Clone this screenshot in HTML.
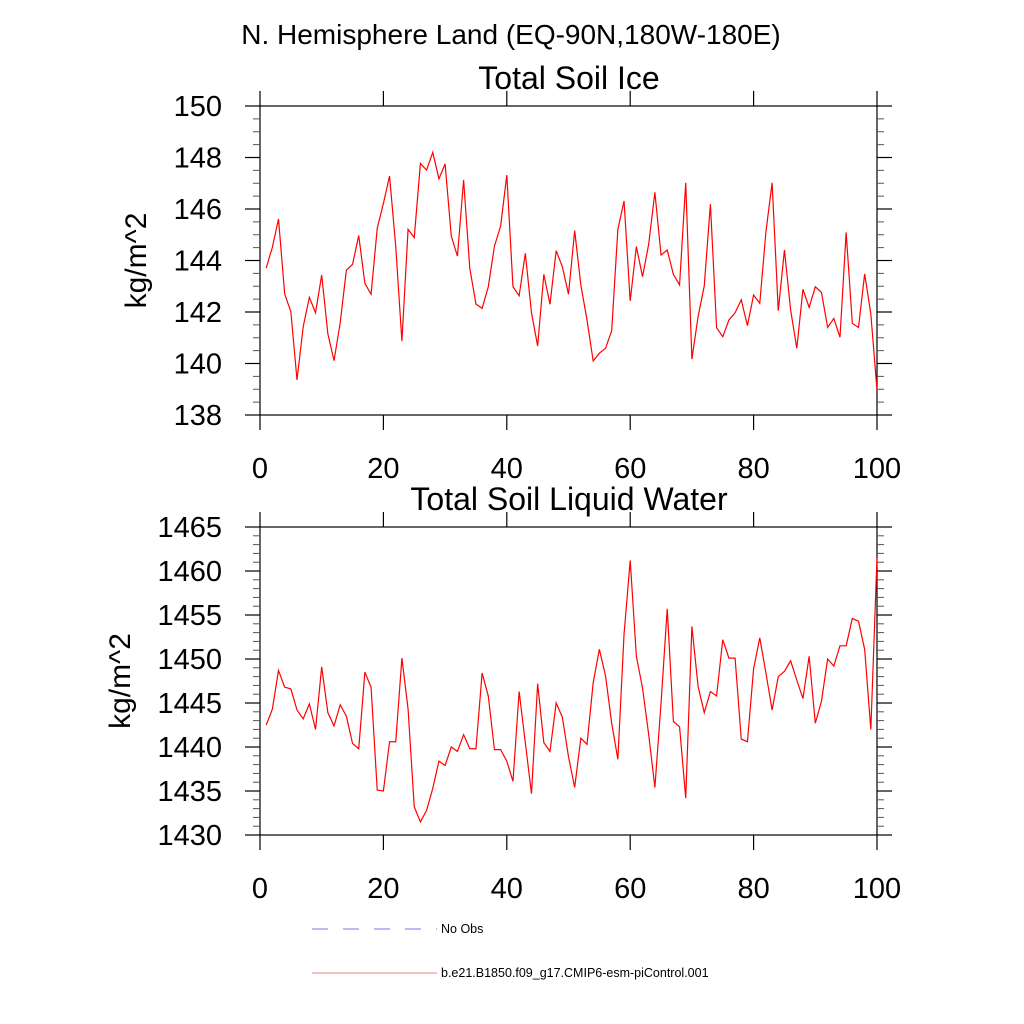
<!DOCTYPE html>
<html><head><meta charset="utf-8"><style>
html,body{margin:0;padding:0;background:#fff;}
svg{display:block;font-family:"Liberation Sans",sans-serif;}
</style></head><body>
<svg id="chart" width="1024" height="1024" viewBox="0 0 1024 1024" xmlns="http://www.w3.org/2000/svg">
<rect width="1024" height="1024" fill="#fff"/>
<text x="511" y="44" font-size="28" text-anchor="middle">N. Hemisphere Land (EQ-90N,180W-180E)</text>
<g id="legend">
<line x1="312" y1="929" x2="437" y2="929" stroke="#7777ee" stroke-width="1" stroke-dasharray="16,15"/>
<text x="441" y="933" font-size="12.5">No Obs</text>
<line x1="312" y1="973" x2="437" y2="973" stroke="#f08080" stroke-width="1"/>
<text x="441" y="977" font-size="12.5">b.e21.B1850.f09_g17.CMIP6-esm-piControl.001</text>
</g>
</svg>
<script>
const years = Array.from({length:100},(_,i)=>i+1);
const iceValues = [143.70,144.51,145.61,142.70,142.01,139.36,141.43,142.57,141.97,143.44,141.15,140.11,141.59,143.63,143.85,144.97,143.11,142.69,145.25,146.22,147.28,144.54,140.87,145.21,144.89,147.77,147.51,148.20,147.17,147.75,144.95,144.17,147.13,143.70,142.31,142.14,142.98,144.56,145.34,147.32,142.98,142.63,144.28,141.97,140.68,143.46,142.30,144.38,143.76,142.69,145.16,143.05,141.69,140.10,140.40,140.59,141.27,145.21,146.31,142.43,144.54,143.37,144.64,146.65,144.21,144.41,143.46,143.05,147.02,140.17,141.82,143.01,146.19,141.39,141.04,141.69,141.97,142.47,141.47,142.66,142.34,145.12,147.02,142.05,144.41,142.08,140.59,142.88,142.18,142.98,142.76,141.40,141.75,141.02,145.09,141.56,141.40,143.48,141.92,138.97];
const waterValues = [1442.5,1444.3,1448.7,1446.8,1446.6,1444.2,1443.2,1444.9,1442.0,1449.1,1443.9,1442.4,1444.8,1443.5,1440.4,1439.8,1448.5,1446.8,1435.1,1435.0,1440.6,1440.6,1450.1,1444.3,1433.2,1431.5,1432.8,1435.3,1438.4,1437.9,1440.0,1439.5,1441.4,1439.8,1439.8,1448.4,1445.8,1439.7,1439.7,1438.4,1436.1,1446.3,1440.5,1434.7,1447.2,1440.5,1439.5,1445.0,1443.4,1438.9,1435.4,1441.0,1440.3,1447.3,1451.1,1448.1,1442.7,1438.6,1452.8,1461.2,1450.3,1446.7,1441.4,1435.4,1445.0,1455.7,1442.9,1442.3,1434.2,1453.7,1446.9,1443.9,1446.3,1445.8,1452.2,1450.1,1450.1,1440.9,1440.6,1448.9,1452.4,1448.4,1444.2,1448.0,1448.6,1449.8,1447.6,1445.5,1450.3,1442.7,1445.2,1450.0,1449.2,1451.5,1451.5,1454.6,1454.3,1451.1,1442.0,1461.5];
const xTicks = [0,20,40,60,80,100];
const iceTicks = [138,140,142,144,146,148,150];
const waterTicks = [1430,1435,1440,1445,1450,1455,1460,1465];

const NS='http://www.w3.org/2000/svg';
const svg=document.getElementById('chart');
function mk(tag,attrs,parent){const e=document.createElementNS(NS,tag);for(const k in attrs)e.setAttribute(k,attrs[k]);(parent||svg).appendChild(e);return e;}

function panel(opt){
  const g=mk('g',{});
  
  
  const L=260,R=877,T=opt.top,B=opt.bottom;
  const xs=v=>L+(v-0)/(100-0)*(R-L);
  const ys=v=>B-(v-opt.ymin)/(opt.ymax-opt.ymin)*(B-T);
  const frame=mk('rect',{x:L,y:T,width:R-L,height:B-T,fill:'none',stroke:'#000','stroke-width':1.2},g);
  
  
  for(let v=opt.ymin;v<=opt.ymax+1e-9;v+=opt.minor){
    const y=ys(v);
    mk('line',{x1:L-7,y1:y,x2:L,y2:y,stroke:'#555','stroke-width':1},g);
    mk('line',{x1:R,y1:y,x2:R+7,y2:y,stroke:'#555','stroke-width':1},g);
  }
  opt.ticks.forEach(v=>{
    const y=ys(v);
    mk('line',{x1:L-15,y1:y,x2:L,y2:y,stroke:'#000','stroke-width':1.2},g);
    mk('line',{x1:R,y1:y,x2:R+15,y2:y,stroke:'#000','stroke-width':1.2},g);
    const t=mk('text',{x:opt.labelRight,y:y+10,'font-size':29,'text-anchor':'end'},g);
    t.textContent=v;
    
    
  });
  xTicks.forEach(v=>{
    const x=xs(v);
    mk('line',{x1:x,y1:B,x2:x,y2:B+15,stroke:'#000','stroke-width':1.2},g);
    mk('line',{x1:x,y1:T-15,x2:x,y2:T,stroke:'#000','stroke-width':1.2},g);
    const t=mk('text',{x:x,y:B+63,'font-size':29,'text-anchor':'middle'},g);
    t.textContent=v;
    
    
  });
  const title=mk('text',{x:569,y:T-17,'font-size':32,'text-anchor':'middle'},g);
  title.textContent=opt.title;
  
  
  const yl=mk('text',{x:0,y:0,'font-size':30,'text-anchor':'middle',transform:`translate(${opt.ylabelX},${(T+B)/2}) rotate(-90)`},g);
  yl.textContent='kg/m^2';
  
  
  const pts=years.map((yr,i)=>xs(yr).toFixed(2)+','+ys(opt.values[i]).toFixed(2)).join(' ');
  const line=mk('polyline',{points:pts,fill:'none',stroke:'#ff0000','stroke-width':1.2},g);
  
  
}
panel({name:'soil-ice-panel',title:'Total Soil Ice',top:106,bottom:415,ymin:138,ymax:150,minor:0.5,ticks:iceTicks,values:iceValues,labelRight:222,ylabelX:146});
panel({name:'soil-liquid-water-panel',title:'Total Soil Liquid Water',top:527,bottom:835,ymin:1430,ymax:1465,minor:1,ticks:waterTicks,values:waterValues,labelRight:222,ylabelX:130});
</script>
</body></html>
